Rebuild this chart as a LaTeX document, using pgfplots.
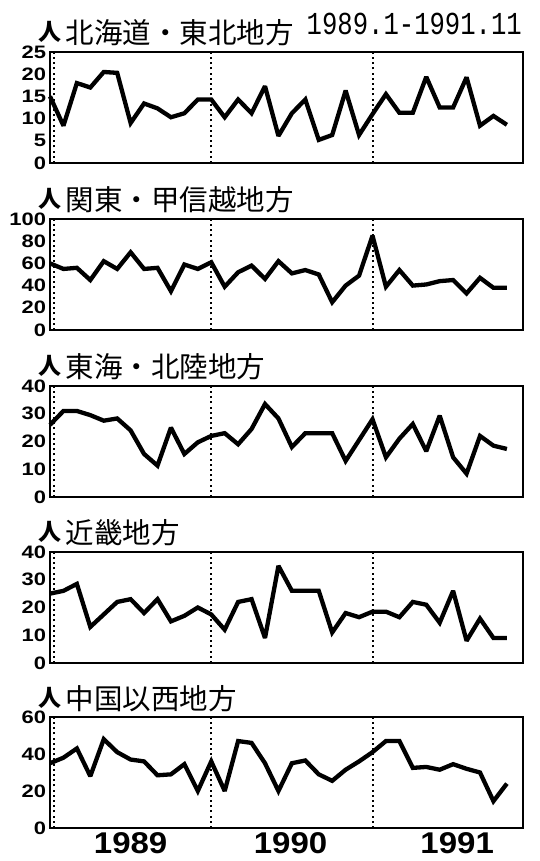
\documentclass[border=0pt]{standalone}
\usepackage{pgfplots}
\pgfplotsset{compat=1.18}
\usepackage{fontspec}
\setmainfont{Liberation Sans}
\newfontfamily\jp{Noto Sans CJK JP}
\newfontfamily\tickf[FakeStretch=1.22]{Liberation Sans}
\newfontfamily\yearf[FakeStretch=1.1]{Liberation Sans}
\newfontfamily\datef[FakeStretch=0.8]{Liberation Mono}
\pgfplotsset{
  panel/.style={
    width=473pt, height=111pt, scale only axis,
    anchor=south west,
    xmin=0, xmax=35.2, ymin=0,
    every axis/.append style={line width=1.8pt},
    axis line style={line width=1.8pt, black},
    xtick=\empty,
    major tick length=0pt,
    /pgf/number format/assume math mode=true,
    yticklabel style={font=\fontsize{18}{18}\selectfont\tickf\bfseries, inner sep=0pt, xshift=-3pt},
    extra x ticks={0.3,12,24},
    extra x tick labels={},
    extra x tick style={grid=major},
    major grid style={line width=2pt, dash pattern=on 2pt off 3.2pt, black},
    clip=false,
  },
  dl/.style={black, mark=none, line width=4.3pt, line join=miter, miter limit=2.5},
}
\newcommand{\ttl}[2]{%
  \node[anchor=base west, inner sep=0pt] at (#1) [xshift=-12pt, yshift=11pt] {\fontsize{23}{23}\selectfont\jp\bfseries 人};
  \node[anchor=base west, inner sep=0pt] at (#1) [xshift=15pt, yshift=8pt] {\fontsize{28.5}{28.5}\selectfont\jp #2};
}
\begin{document}
\begin{tikzpicture}[x=1pt,y=1pt]
\useasboundingbox (0,0) rectangle (540,861);
\node[anchor=base east, inner sep=0pt] at (522,826) {\fontsize{32}{32}\selectfont\datef 1989.1-1991.11};
% Panel 1
\begin{axis}[panel, at={(50pt,698pt)}, ymax=25, ytick={0,5,10,15,20,25}]
\addplot[dl] coordinates {(0,15)(1,8.4)(2,18)(3,17)(4,20.5)(5,20.3)(6,9)(7,13.4)(8,12.3)(9,10.3)(10,11.2)(11,14.3)(12,14.3)(13,10.3)(14,14.3)(15,11.2)(16,17.3)(17,6.1)(18,11.2)(19,14.3)(20,5.2)(21,6.3)(22,16.3)(23,6.3)(24,11)(25,15.5)(26,11.3)(27,11.3)(28,19.4)(29,12.5)(30,12.5)(31,19.3)(32,8.4)(33,10.6)(34,8.6)};
\ttl{rel axis cs:0,1}{北海道・東北地方}
\end{axis}
% Panel 2
\begin{axis}[panel, at={(50pt,531pt)}, ymax=100, ytick={0,20,40,60,80,100}]
\addplot[dl] coordinates {(0,60)(1,55)(2,56)(3,45)(4,62)(5,55)(6,70)(7,55)(8,56)(9,35)(10,59)(11,55)(12,61)(13,39)(14,52)(15,58)(16,46)(17,62)(18,51)(19,54)(20,50)(21,25)(22,40)(23,49)(24,85)(25,39)(26,54)(27,40)(28,41)(29,44)(30,45)(31,33)(32,47)(33,38)(34,38)};
\ttl{rel axis cs:0,1}{関東・甲信越地方}
\end{axis}
% Panel 3
\begin{axis}[panel, at={(50pt,364pt)}, ymax=40, ytick={0,10,20,30,40}]
\addplot[dl] coordinates {(0,26)(1,31)(2,31)(3,29.5)(4,27.5)(5,28.3)(6,24)(7,15.5)(8,11.3)(9,25)(10,15.5)(11,19.7)(12,22)(13,23)(14,19)(15,24.5)(16,33.5)(17,28.3)(18,18)(19,23)(20,23)(21,23)(22,13)(23,20.5)(24,28)(25,14.3)(26,21)(27,26.3)(28,16.5)(29,29.3)(30,14.3)(31,8.4)(32,22)(33,18.5)(34,17.3)};
\ttl{rel axis cs:0,1}{東海・北陸地方}
\end{axis}
% Panel 4
\begin{axis}[panel, at={(50pt,198pt)}, ymax=40, ytick={0,10,20,30,40}]
\addplot[dl] coordinates {(0,25)(1,26)(2,28.5)(3,13)(4,17.5)(5,22)(6,23)(7,18)(8,23)(9,15)(10,17)(11,20)(12,17.5)(13,12)(14,22)(15,23)(16,9)(17,35)(18,26)(19,26)(20,26)(21,11)(22,18)(23,16.5)(24,18.5)(25,18.5)(26,16.5)(27,22)(28,21)(29,14.5)(30,26)(31,8)(32,16)(33,9)(34,9)};
\ttl{rel axis cs:0,1}{近畿地方}
\end{axis}
% Panel 5
\begin{axis}[panel, at={(50pt,33pt)}, ymax=60, ytick={0,20,40,60},
  xtick={6,17.9,30.3}, xticklabels={1989,1990,1991},
  xticklabel style={font=\fontsize{30}{30}\selectfont\yearf\bfseries, inner sep=0pt, anchor=north, yshift=-4pt}]
\addplot[dl] coordinates {(0,35)(1,38)(2,43)(3,28)(4,48)(5,41)(6,37)(7,36)(8,28.5)(9,29)(10,34.5)(11,20)(12,36)(13,20)(14,47)(15,46)(16,35)(17,20)(18,35)(19,36.5)(20,29)(21,25.5)(22,31.5)(23,36)(24,41)(25,47)(26,47)(27,32.5)(28,33)(29,31.5)(30,34.5)(31,32)(32,30)(33,14.5)(34,24)};
\ttl{rel axis cs:0,1}{中国以西地方}
\end{axis}
\end{tikzpicture}
\end{document}
